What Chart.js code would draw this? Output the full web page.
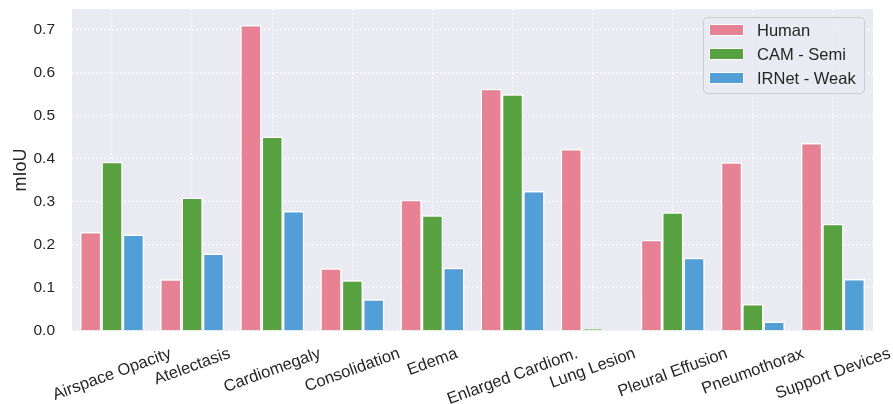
<!DOCTYPE html>
<html>
<head>
<meta charset="utf-8">
<script src="https://cdn.jsdelivr.net/npm/chart.js@4.4.0/dist/chart.umd.min.js"></script>
<style>
  html, body { margin: 0; padding: 0; background: #fff; }
  #wrap { width: 893px; height: 404px; }
</style>
</head>
<body>
<div id="wrap"><canvas id="miouChart"></canvas></div>
<script>
const categories = ['Airspace Opacity', 'Atelectasis', 'Cardiomegaly', 'Consolidation', 'Edema',
  'Enlarged Cardiom.', 'Lung Lesion', 'Pleural Effusion', 'Pneumothorax', 'Support Devices'];
const seriesNames = ['Human', 'CAM - Semi', 'IRNet - Weak'];
const humanScores = [0.230, 0.120, 0.711, 0.146, 0.305, 0.563, 0.423, 0.212, 0.392, 0.437];
const camScores   = [0.393, 0.310, 0.452, 0.118, 0.269, 0.550, 0.005, 0.276, 0.063, 0.249];
const irnetScores = [0.224, 0.180, 0.279, 0.074, 0.147, 0.325, 0.002, 0.170, 0.022, 0.121];
const yTicks = [0, 0.1, 0.2, 0.3, 0.4, 0.5, 0.6, 0.7];

const FONT = '"Liberation Sans", Arial, sans-serif';
const TEXT = '#262626';
const colors = ['#E68294', '#58A141', '#519FD6'];

// 灰底 + 圖例 + 斜的 x 軸文字
const seabornLook = {
  id: 'seabornLook',
  beforeDraw(chart) {
    const { ctx, chartArea: a } = chart;
    ctx.save();
    ctx.fillStyle = '#fff';
    ctx.fillRect(0, 0, chart.width, chart.height);
    ctx.fillStyle = '#EAEAF2';
    ctx.fillRect(a.left, a.top, a.right - a.left, a.bottom - a.top);
    ctx.restore();
  },
  afterDraw(chart) {
    const { ctx, chartArea: a } = chart;
    const xs = chart.scales.x;
    const rot = 20 * Math.PI / 180;
    ctx.save();
    ctx.fillStyle = TEXT;
    ctx.font = '16.5px ' + FONT;
    categories.forEach((c, i) => {
      const x = xs.getPixelForTick(i);
      const w = ctx.measureText(c).width;
      const h = 15;
      const cy = a.bottom + 15 + (w * Math.sin(rot) + h * Math.cos(rot)) / 2;
      ctx.save();
      ctx.translate(x, cy);
      ctx.rotate(-rot);
      ctx.textAlign = 'center';
      ctx.textBaseline = 'middle';
      ctx.fillText(c, 0, 0);
      ctx.restore();
    });

    // legend
    const lx = 703, ly = 17, lw = 161, lh = 76;
    ctx.beginPath();
    ctx.roundRect(lx + 0.5, ly + 0.5, lw, lh, 4);
    ctx.fillStyle = 'rgba(234,234,242,0.8)';
    ctx.fill();
    ctx.strokeStyle = '#CCCCCC';
    ctx.lineWidth = 1;
    ctx.stroke();
    ctx.font = '16.5px ' + FONT;
    ctx.textBaseline = 'middle';
    ctx.textAlign = 'left';
    chart.data.datasets.forEach((ds, i) => {
      const cy = 30 + i * 24;
      ctx.fillStyle = ds.backgroundColor;
      ctx.fillRect(709, cy - 6, 35, 12);
      ctx.strokeStyle = '#fff';
      ctx.strokeRect(709.5, cy - 5.5, 34, 11);
      ctx.fillStyle = TEXT;
      ctx.fillText(ds.label, 757, cy + 1);
    });
    ctx.restore();
  }
};

const ctxMiou = document.getElementById('miouChart').getContext('2d');

const miouChart = new Chart(ctxMiou, {
  type: 'bar',
  data: {
    labels: categories,
    datasets: [humanScores, camScores, irnetScores].map((d, i) => ({
      label: seriesNames[i],
      data: d,
      backgroundColor: colors[i],
      borderColor: '#ffffff',
      borderWidth: 1.5,
      categoryPercentage: 0.8,
      barPercentage: 1.0,
    }))
  },
  options: {
    responsive: true,
    maintainAspectRatio: false,
    animation: false,
    layout: { padding: { top: 9, right: 20, bottom: 73, left: 0 } },
    plugins: {
      legend: { display: false },
      tooltip: { enabled: false },
    },
    scales: {
      x: {
        grid: { color: '#ffffff', lineWidth: 1.3, offset: false, drawTicks: false },
        border: { display: false, dash: [1.5, 2.5] },
        ticks: { display: false },
        afterFit(scale) { scale.height = 0; scale.paddingLeft = 0; scale.paddingRight = 0; },
      },
      y: {
        min: 0,
        max: 0.748,
        afterFit(scale) {
          scale.width = 72;
          scale.paddingTop = 0;
          scale.paddingBottom = 0;
        },
        afterBuildTicks(scale) { scale.ticks = yTicks.map(v => ({ value: v })); },
        grid: { color: '#ffffff', lineWidth: 1.3, drawTicks: false },
        border: { display: false, dash: [1.5, 2.5] },
        ticks: {
          color: TEXT,
          padding: 17,
          font: { family: FONT, size: 15.5 },
          callback: v => v.toFixed(1),
        },
        title: {
          display: true,
          text: 'mIoU',
          color: TEXT,
          font: { family: FONT, size: 18 },
          padding: { top: 10, bottom: 0 },
        }
      }
    }
  },
  plugins: [seabornLook]
});
</script>
</body>
</html>
